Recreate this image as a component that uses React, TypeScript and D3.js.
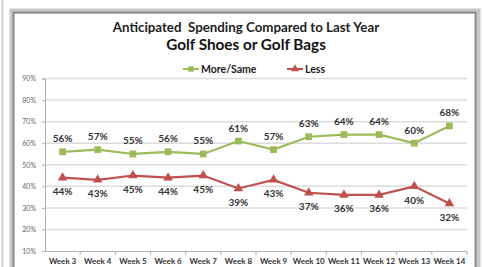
import React, { useEffect, useRef } from 'react';
import * as d3 from 'd3';

const weeks = ['Week 3', 'Week 4', 'Week 5', 'Week 6', 'Week 7', 'Week 8', 'Week 9', 'Week 10', 'Week 11', 'Week 12', 'Week 13', 'Week 14'];
const moreSame = [56, 57, 55, 56, 55, 61, 57, 63, 64, 64, 60, 68];
const less = [44, 43, 45, 44, 45, 39, 43, 37, 36, 36, 40, 32];
const yTicks = [10, 20, 30, 40, 50, 60, 70, 80, 90];

const GREEN = '#9bbb59';
const RED = '#c0504d';
const FONT = 'Lato, "Open Sans", sans-serif';

const App = () => {
  const ref = useRef<SVGSVGElement>(null);

  useEffect(() => {
    const svg = d3.select(ref.current);
    svg.selectAll('*').remove();

    // frame
    svg.append('rect').attr('width', 482).attr('height', 267).attr('fill', '#fff');
    svg.append('line').attr('x1', 2.5).attr('x2', 2.5).attr('y1', 0).attr('y2', 267)
      .attr('stroke', '#d0d0d0').attr('stroke-width', 2);
    svg.append('rect').attr('x', 12).attr('y', 11).attr('width', 466).attr('height', 270)
      .attr('fill', 'none').attr('stroke', '#c8c8c8').attr('stroke-width', 5);
    svg.append('rect').attr('x', 13.5).attr('y', 12.5).attr('width', 462).attr('height', 270)
      .attr('fill', 'none').attr('stroke', '#8c8c8c').attr('stroke-width', 2);

    const left = 45, right = 467, top = 78.5, bottom = 251;

    const x = d3.scaleBand().domain(weeks).range([left, right]);
    const y = d3.scaleLinear().domain([10, 90]).range([bottom, top]);

    // titles
    svg.append('text').attr('x', 246).attr('y', 32).attr('text-anchor', 'middle')
      .attr('font-family', FONT).attr('font-weight', 'bold').attr('font-size', 13.3)
      .attr('fill', '#222').attr('xml:space', 'preserve')
      .text('Anticipated  Spending Compared to Last Year');
    svg.append('text').attr('x', 246).attr('y', 50).attr('text-anchor', 'middle')
      .attr('font-family', FONT).attr('font-weight', 'bold').attr('font-size', 15.3)
      .attr('fill', '#111').text('Golf Shoes or Golf Bags');

    // grid
    svg.append('g').selectAll('line').data(yTicks.slice(1)).enter().append('line')
      .attr('x1', left).attr('x2', right)
      .attr('y1', d => y(d)).attr('y2', d => y(d))
      .attr('stroke', '#dcdcdc').attr('stroke-width', 1.5);

    // y axis
    const yAxis = svg.append('g').attr('transform', `translate(${left},0)`)
      .call(d3.axisLeft(y).tickValues(yTicks).tickFormat(d => `${d}%`).tickSize(3).tickPadding(6));
    yAxis.select('.domain').attr('stroke', '#b0b0b0');
    yAxis.selectAll('.tick line').attr('stroke', '#b0b0b0');
    yAxis.selectAll('text').attr('font-family', FONT).attr('font-size', 7).attr('fill', '#666');

    // x axis
    const xAxis = svg.append('g').attr('transform', `translate(0,${bottom})`)
      .call(d3.axisBottom(x).tickSize(0).tickPadding(7));
    xAxis.select('.domain').attr('stroke', '#b0b0b0');
    xAxis.selectAll('text').attr('font-family', FONT).attr('font-weight', 'bold')
      .attr('font-size', 8).attr('fill', '#333');
    xAxis.selectAll('.sep').data(weeks).enter().append('line')
      .attr('x1', d => (x(d) as number) + x.bandwidth()).attr('x2', d => (x(d) as number) + x.bandwidth())
      .attr('y1', 0).attr('y2', 4).attr('stroke', '#b0b0b0');

    const cx = (i: number) => (x(weeks[i]) as number) + x.bandwidth() / 2;
    const line = d3.line<number>().x((_, i) => cx(i)).y(d => y(d));

    const series = [
      { name: 'More/Same', values: moreSame, color: GREEN, marker: 'square', dy: -13 },
      { name: 'Less', values: less, color: RED, marker: 'triangle', dy: 14 },
    ];

    series.forEach(s => {
      svg.append('path').datum(s.values).attr('d', line)
        .attr('fill', 'none').attr('stroke', s.color).attr('stroke-width', 2.2);
      const sym = d3.symbol().type(s.marker === 'square' ? d3.symbolSquare : d3.symbolTriangle)
        .size(s.marker === 'square' ? 46 : 40);
      svg.append('g').selectAll('path').data(s.values).enter().append('path')
        .attr('d', sym).attr('transform', (d, i) => `translate(${cx(i)},${y(d)})`)
        .attr('fill', s.color);
      svg.append('g').selectAll('text').data(s.values).enter().append('text')
        .attr('x', (d, i) => cx(i)).attr('y', d => y(d) + s.dy)
        .attr('dy', '0.35em').attr('text-anchor', 'middle')
        .attr('font-family', FONT).attr('font-weight', 'bold').attr('font-size', 10)
        .attr('fill', '#333').text(d => `${d}%`);
    });

    // legend
    const legend = [
      { name: 'More/Same', color: GREEN, x: 183, sym: d3.symbolSquare, size: 30 },
      { name: 'Less', color: RED, x: 287, sym: d3.symbolTriangle, size: 28 },
    ];
    legend.forEach(l => {
      const g = svg.append('g').attr('transform', `translate(${l.x},69)`);
      g.append('line').attr('x1', 0).attr('x2', 16).attr('stroke', l.color).attr('stroke-width', 2);
      g.append('path').attr('d', d3.symbol().type(l.sym).size(l.size)).attr('transform', 'translate(8,0)')
        .attr('fill', l.color);
      g.append('text').attr('x', 18).attr('dy', '0.35em').attr('font-family', FONT)
        .attr('font-weight', 'bold').attr('font-size', 10.5).attr('fill', '#222').text(l.name);
    });
  }, []);

  return (
    <svg ref={ref} width={482} height={267} style={{ position: 'absolute', left: 0, top: 0 }} />
  );
};

export default App;
